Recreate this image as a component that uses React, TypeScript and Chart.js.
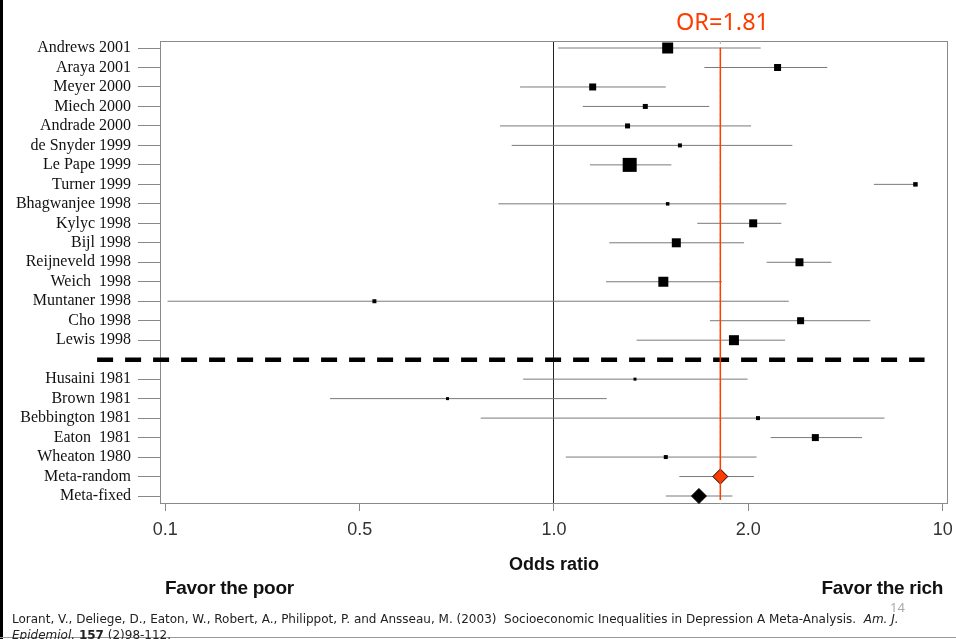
import { useEffect, useRef } from "react";
import Chart from "chart.js/auto";

// studies above the dashed separator (recent), and below it (1980-81)
const recentStudies = [
  "Andrews 2001",
  "Araya 2001",
  "Meyer 2000",
  "Miech 2000",
  "Andrade 2000",
  "de Snyder 1999",
  "Le Pape 1999",
  "Turner 1999",
  "Bhagwanjee 1998",
  "Kylyc 1998",
  "Bijl 1998",
  "Reijneveld 1998",
  "Weich  1998",
  "Muntaner 1998",
  "Cho 1998",
  "Lewis 1998",
];
const olderStudies = ["Husaini 1981", "Brown 1981", "Bebbington 1981", "Eaton  1981", "Wheaton 1980"];
const metaLabels = ["Meta-random", "Meta-fixed"];

// odds ratio, 95% CI and weight (marker side) per study, in the same order
const studyOR = [1.5, 2.22, 1.148, 1.385, 1.3, 1.567, 1.31, 3.63, 1.5, 2.035, 1.547, 2.4, 1.477, 0.527, 2.41, 1.9, 1.335, 0.684, 2.07, 2.54, 1.49];
const studyLow = [1.015, 1.71, 0.886, 1.108, 0.825, 0.86, 1.137, 3.13, 0.82, 1.667, 1.218, 2.135, 1.204, 0.252, 1.744, 1.343, 0.896, 0.45, 0.77, 2.166, 1.043];
const studyHigh = [2.09, 2.65, 1.49, 1.74, 2.02, 2.34, 1.52, 3.63, 2.29, 2.25, 1.97, 2.69, 1.82, 2.31, 3.09, 2.28, 1.995, 1.207, 3.25, 3.0, 2.06];
const studyWeight = [11, 7, 7, 5, 5, 4, 14, 4.5, 3.5, 8, 9, 8, 10, 4, 7, 10, 3, 3, 4, 7, 4];

const metaOR = [1.81, 1.677];
const metaLow = [1.564, 1.49];
const metaHigh = [2.04, 1.89];
const pooledOR = 1.81;

// the published axis puts these labels at equal (doubling) steps
const xTickValues = [0.25, 0.5, 1, 2, 4];
const xTickLabels = ["0.1", "0.5", "1.0", "2.0", "10"];

const X_MIN = 0.2453;
const X_MAX = 4.077;
const Y_MIN = -0.36;
const Y_MAX = 23.41;
const SEPARATOR_FROM = 0.196;
const SEPARATOR_TO = 3.75;

const RED = "#ff3c00";

const studyLabels = [...recentStudies, ...olderStudies];
const separatorRow = recentStudies.length;
const studyRow = (i: number) => (i < recentStudies.length ? i : i + 1);
const metaRow = (i: number) => studyLabels.length + 1 + i;

const rowLabel: Record<number, string> = {};
studyLabels.forEach((name, i) => (rowLabel[studyRow(i)] = name));
metaLabels.forEach((name, i) => (rowLabel[metaRow(i)] = name));
const labeledRows = Object.keys(rowLabel).map(Number);

const framePlugin = {
  id: "frame",
  beforeDatasetsDraw(chart: any) {
    const { ctx, chartArea } = chart;
    ctx.save();
    ctx.strokeStyle = "#8a8a8a";
    ctx.lineWidth = 1;
    ctx.strokeRect(chartArea.left + 0.5, chartArea.top + 0.5, chartArea.width - 1, chartArea.height - 1);
    ctx.restore();
  },
};

function ForestPlot() {
  const canvasRef = useRef<HTMLCanvasElement>(null);

  useEffect(() => {
    if (!canvasRef.current) return;

    const ciSets: any[] = [];
    studyLabels.forEach((_, i) => {
      ciSets.push({
        data: [
          { x: studyLow[i], y: studyRow(i) },
          { x: studyHigh[i], y: studyRow(i) },
        ],
        showLine: true,
        borderColor: "#7a7a7a",
        borderWidth: 1,
        pointRadius: 0,
        order: 3,
      });
    });
    metaLabels.forEach((_, i) => {
      ciSets.push({
        data: [
          { x: metaLow[i], y: metaRow(i) },
          { x: metaHigh[i], y: metaRow(i) },
        ],
        showLine: true,
        borderColor: "#7a7a7a",
        borderWidth: 1,
        pointRadius: 0,
        order: 3,
      });
    });

    const chart = new Chart(canvasRef.current, {
      type: "scatter",
      data: {
        datasets: [
          {
            data: studyOR.map((v, i) => ({ x: v, y: studyRow(i) })),
            pointStyle: "rect",
            pointRadius: studyWeight.map((w) => w / Math.SQRT2),
            backgroundColor: "#000",
            borderWidth: 0,
            order: 1,
          },
          {
            data: metaOR.map((v, i) => ({ x: v, y: metaRow(i) })),
            pointStyle: "rectRot",
            pointRadius: 7.5,
            backgroundColor: [RED, "#000"],
            borderColor: "#000",
            borderWidth: 1,
            order: 1,
          },
          ...ciSets,
          {
            data: [
              { x: pooledOR, y: Y_MIN },
              { x: pooledOR, y: Y_MAX },
            ],
            showLine: true,
            borderColor: "#b0b0b0",
            borderDash: [3, 3],
            borderWidth: 1,
            pointRadius: 0,
            order: 4,
          },
          {
            data: [
              { x: pooledOR, y: 0 },
              { x: pooledOR, y: metaRow(1) + 0.2 },
            ],
            showLine: true,
            borderColor: RED,
            borderWidth: 1.5,
            pointRadius: 0,
            order: 0,
          },
          {
            data: [
              { x: SEPARATOR_FROM, y: separatorRow },
              { x: SEPARATOR_TO, y: separatorRow },
            ],
            showLine: true,
            borderColor: "#000",
            borderDash: [16, 12],
            borderWidth: 4.5,
            pointRadius: 0,
            clip: false,
            order: 2,
          } as any,
        ],
      },
      options: {
        animation: false,
        responsive: false,
        events: [],
        layout: { autoPadding: false, padding: { left: 0, right: 8, top: 41, bottom: 0 } },
        plugins: { legend: { display: false }, tooltip: { enabled: false } },
        scales: {
          x: {
            type: "logarithmic",
            min: X_MIN,
            max: X_MAX,
            afterBuildTicks: (scale: any) => {
              scale.ticks = xTickValues.map((v) => ({ value: v }));
            },
            afterFit: (scale: any) => {
              scale.height = 135;
              scale.paddingLeft = 0;
              scale.paddingRight = 0;
            },
            ticks: {
              callback: (_v: any, i: number) => xTickLabels[i],
              font: { family: "Liberation Sans", size: 18 },
              color: "#333",
              padding: 8,
              maxRotation: 0,
              autoSkip: false,
            },
            grid: {
              color: (c: any) => (c.tick && c.tick.value === 1 ? "#222" : "rgba(0,0,0,0)"),
              tickColor: "#888",
              tickLength: 7,
            },
            border: { display: false },
            title: {
              display: true,
              text: "Odds ratio",
              font: { family: "Liberation Sans", size: 18, weight: "bold" },
              color: "#111",
              padding: { top: 0, bottom: 63 },
            },
          },
          y: {
            type: "linear",
            reverse: true,
            min: Y_MIN,
            max: Y_MAX,
            afterBuildTicks: (scale: any) => {
              scale.ticks = labeledRows.map((r) => ({ value: r }));
            },
            afterFit: (scale: any) => {
              scale.width = 160;
              scale.paddingTop = 0;
              scale.paddingBottom = 0;
            },
            ticks: {
              callback: (v: any) => rowLabel[v as number] ?? "",
              font: { family: "Liberation Serif", size: 16 },
              color: "#111",
              padding: 7,
              autoSkip: false,
            },
            grid: { drawOnChartArea: false, color: "#888", tickLength: 22 },
            border: { display: false },
          },
        },
      },
      plugins: [framePlugin],
    });

    return () => {
      chart.destroy();
    };
  }, []);

  return <canvas ref={canvasRef} width={956} height={639} style={{ position: "absolute", left: 0, top: 0 }} />;
}

export default function App() {
  const sans = "'Liberation Sans', Arial, sans-serif";
  return (
    <div
      style={{
        position: "fixed",
        left: 0,
        top: 0,
        width: 956,
        height: 639,
        background: "#fff",
        overflow: "hidden",
      }}
    >
      <ForestPlot />
      <div style={{ position: "absolute", left: 0, top: 0, width: 3, height: 639, background: "#000" }} />
      <div style={{ position: "absolute", left: 0, top: 637, width: 956, height: 1, background: "#999" }} />
      <div
        style={{
          position: "absolute",
          left: 676,
          top: 10,
          font: "23.5px 'Noto Sans', sans-serif",
          lineHeight: "23px",
          color: RED,
          whiteSpace: "nowrap",
        }}
      >
        OR=1.81
      </div>
      <div
        style={{
          position: "absolute",
          left: 165,
          top: 578,
          font: `bold 19px ${sans}`,
          lineHeight: "20px",
          letterSpacing: "-0.3px",
          color: "#111",
          whiteSpace: "nowrap",
        }}
      >
        Favor the poor
      </div>
      <div
        style={{
          position: "absolute",
          right: 13,
          top: 578,
          font: `bold 19px ${sans}`,
          lineHeight: "20px",
          letterSpacing: "-0.3px",
          color: "#111",
          whiteSpace: "nowrap",
        }}
      >
        Favor the rich
      </div>
      <div
        style={{
          position: "absolute",
          left: 890,
          top: 600,
          font: "13px 'Noto Sans', sans-serif",
          lineHeight: "14px",
          color: "#aaa",
        }}
      >
        14
      </div>
      <div
        style={{
          position: "absolute",
          left: 12,
          top: 611,
          font: "12px 'DejaVu Sans', sans-serif",
          lineHeight: "16px",
          color: "#222",
          whiteSpace: "pre",
        }}
      >
        {"Lorant, V., Deliege, D., Eaton, W., Robert, A., Philippot, P. and Ansseau, M. (2003)  Socioeconomic Inequalities in Depression A Meta-Analysis.  "}
        <i>Am. J.</i>
        <br />
        <i>Epidemiol.</i> <b>157</b> (2)98-112.
      </div>
    </div>
  );
}
